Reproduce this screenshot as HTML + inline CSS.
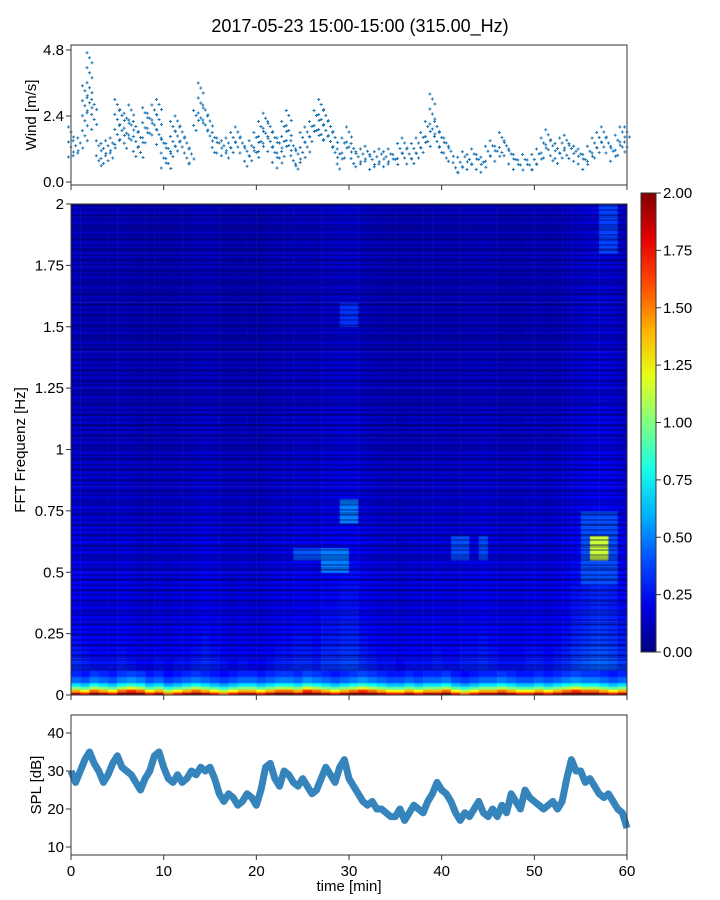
<!DOCTYPE html>
<html><head><meta charset="utf-8"><style>
body{margin:0;background:#fff;font-family:"Liberation Sans",sans-serif;}
#wrap{position:relative;width:720px;height:900px;overflow:hidden;}
canvas{position:absolute;left:71px;top:204px;}
#stripes{position:absolute;left:71px;top:204px;width:556px;height:470px;
 background:repeating-linear-gradient(180deg,rgba(0,0,90,0.35) 0px,rgba(0,0,90,0.35) 2px,rgba(0,0,0,0) 2px,rgba(0,0,0,0) 5px),
 repeating-linear-gradient(180deg,rgba(0,0,60,0.25) 0px,rgba(0,0,60,0.25) 3px,rgba(0,0,0,0) 3px,rgba(0,0,0,0) 11px);}
svg{position:absolute;left:0;top:0;}
text{font-family:"Liberation Sans",sans-serif;fill:#000;}
</style></head><body>
<div id="wrap">
<canvas id="spec" width="556" height="491"></canvas>
<div id="stripes"></div>
<svg id="svg" width="720" height="900"></svg>
</div>
<script>
const windLow = [0.9,0.8,1.0,1.5,2.5,1.8,0.5,0.6,0.6,0.8,1.2,1.4,1.2,1.5,0.9,0.8,1.4,1.6,1.7,1.2,0.5,0.4,0.8,1.0,1.2,0.6,0.6,1.8,2.0,1.8,1.4,1.0,0.9,0.8,0.8,1.0,1.2,0.9,0.5,0.6,0.8,1.0,1.3,1.0,0.6,0.5,0.8,1.0,0.5,0.3,0.7,1.0,1.4,1.6,1.5,1.4,1.2,0.8,0.4,0.8,1.0,0.6,0.4,0.5,0.6,0.4,0.5,0.6,0.5,0.6,0.5,0.7,0.8,0.5,0.6,0.8,1.0,1.2,1.6,1.2,1.0,0.8,0.6,0.2,0.3,0.5,0.4,0.6,0.4,0.3,0.6,0.8,0.6,0.9,0.8,0.6,0.4,0.3,0.5,0.3,0.4,0.5,0.8,1.0,0.7,0.6,0.8,0.9,0.7,0.6,0.5,0.4,0.6,0.8,1.0,1.2,0.9,0.6,0.8,1.0,1.2];
const windHigh = [2.0,1.5,1.6,3.5,4.7,3.0,1.5,1.4,1.5,1.6,3.0,2.6,2.5,2.8,2.2,1.8,2.7,2.5,2.8,3.0,1.6,1.4,2.2,2.4,2.0,1.6,1.2,2.6,3.6,2.8,2.4,1.8,1.6,1.5,1.6,1.8,2.0,1.6,1.3,1.5,1.8,2.2,2.5,2.2,1.8,1.6,2.2,2.6,1.5,1.2,1.8,2.0,2.2,2.6,3.0,2.6,2.2,1.8,1.2,1.6,2.0,1.4,1.1,1.2,1.3,1.0,1.1,1.2,1.1,1.2,1.0,1.4,1.6,1.2,1.4,1.6,1.8,2.2,3.2,2.2,1.8,1.6,1.3,0.7,0.9,1.1,1.0,1.2,1.0,0.9,1.3,1.5,1.3,1.8,1.5,1.2,1.0,0.8,1.0,0.8,1.0,1.2,1.6,1.9,1.5,1.4,1.6,1.7,1.4,1.3,1.2,1.0,1.3,1.6,1.8,2.0,1.6,1.3,1.7,2.0,2.0];
const splValues = [30,27,30,33,35,32,30,27,29,32,34,31,30,29,27,25,28,30,34,35,31,28,27,29,27,28,30,29,31,30,31,28,24,22,24,23,21,22,24,23,21,25,31,32,28,26,30,29,27,26,28,26,24,25,28,31,29,27,31,33,28,26,24,22,21,22,20,20,19,18,18,20,17,19,21,20,19,22,24,27,25,24,22,19,17,19,18,20,22,19,18,20,18,21,19,24,22,20,25,23,22,21,20,21,22,20,22,28,33,30,30,27,28,26,24,23,24,22,20,19,15];
const xTicks = [0,10,20,30,40,50,60];
const windTicks = [0.0,2.4,4.8];
const freqTicks = [0,0.25,0.5,0.75,1,1.25,1.5,1.75,2];
const freqTickLabels = ["0","0.25","0.5","0.75","1","1.25","1.5","1.75","2"];
const splTicks = [10,20,30,40];
const cbTicks = [0,0.25,0.5,0.75,1,1.25,1.5,1.75,2];
const lowEdges = [0,0.012,0.024,0.036,0.05,0.075,0.1];
const lowProfile = [1.9,1.4,1.0,0.7,0.45,0.32];
const colLow = [1.0,0.9,1.1,1.0,0.9,1.1,1.2,1.1,0.9,1.0,0.8,0.9,1.0,1.1,1.0,0.9,0.8,0.9,1.0,1.0,0.9,1.0,1.1,1.1,1.0,1.2,1.1,1.0,0.9,1.0,1.1,1.2,1.1,1.0,0.9,0.9,1.0,0.9,1.0,1.0,1.1,0.9,0.8,0.9,1.0,1.0,1.1,1.0,0.9,0.9,1.0,0.9,1.0,1.1,1.2,1.1,1.1,1.0,0.9,1.0];
const freqProfile = [0.28,0.25,0.23,0.22,0.21,0.2,0.2,0.19,0.19,0.18,0.18,0.17,0.16,0.16,0.15,0.15,0.14,0.14,0.13,0.13,0.13,0.12,0.12,0.12,0.12,0.12,0.11,0.11,0.11,0.11,0.11,0.11,0.11,0.11,0.11,0.11,0.11,0.12];
const colGain = [1.2,1.1,1.0,1.0,1.0,1.1,1.0,0.9,0.9,1.0,0.9,1.0,1.0,1.1,1.2,1.1,1.0,0.9,1.0,0.9,0.9,1.0,1.1,1.1,1.2,1.2,1.1,1.3,1.3,1.4,1.4,1.2,1.1,1.0,1.0,0.9,1.0,1.0,1.0,1.1,1.0,1.0,1.1,1.1,1.2,1.1,1.0,1.0,1.0,1.1,1.1,1.0,1.1,1.2,1.4,1.5,1.6,1.6,1.5,1.3];
const hotT0 = [29,27,56,55,29,57,44,24,41];
const hotT1 = [31,30,58,59,31,59,45,27,43];
const hotF0 = [0.75,0.53,0.6,0.5,1.55,1.85,0.58,0.55,0.58];
const hotF1 = [0.8,0.57,0.64,0.72,1.6,2.0,0.62,0.58,0.61];
const hotV  = [0.5,0.5,1.15,0.4,0.35,0.38,0.4,0.42,0.4];

const X0=71,X1=627;
const xs=t=>X0+(t/60)*(X1-X0);
const windY=v=>182-(v/4.8)*132;
const fY=f=>695-(f/2)*491;
const splY=v=>847-(v-10)*(847-733)/30;
const cbY=v=>652-(v/2)*459;

function jet(v){v=Math.max(0,Math.min(1,v));
 const r=Math.max(0,Math.min(1,1.5-Math.abs(4*v-3)));
 const g=Math.max(0,Math.min(1,1.5-Math.abs(4*v-2)));
 const b=Math.max(0,Math.min(1,1.5-Math.abs(4*v-1)));
 return `rgb(${Math.round(r*255)},${Math.round(g*255)},${Math.round(b*255)})`;}

const ctx=document.getElementById('spec').getContext('2d');
for(let c=0;c<60;c++){
 const x0=xs(c)-X0, x1=xs(c+1)-X0;
 for(let i=0;i<freqProfile.length;i++){
  const f0=0.1+i*0.05,f1=f0+0.05;
  let v=freqProfile[i]*colGain[c];
  for(let h=0;h<hotV.length;h++){ if(c>=hotT0[h]&&c<hotT1[h]&&f1>hotF0[h]&&f0<hotF1[h]) v=Math.max(v,hotV[h]); }
  ctx.fillStyle=jet(v/2); ctx.fillRect(x0,fY(f1)-204,x1-x0+0.5,fY(f0)-fY(f1)+0.5);
 }
 for(let i=0;i<lowProfile.length;i++){
  const v=lowProfile[i]*colLow[c];
  ctx.fillStyle=jet(v/2); ctx.fillRect(x0,fY(lowEdges[i+1])-204,x1-x0+0.5,fY(lowEdges[i])-fY(lowEdges[i+1])+0.5);
 }
}

const svg=document.getElementById('svg');const NS='http://www.w3.org/2000/svg';
function mk(tag,attrs,parent){const e=document.createElementNS(NS,tag);for(const k in attrs)e.setAttribute(k,attrs[k]);(parent||svg).appendChild(e);return e;}
function txt(s,x,y,anchor,size,parent){const e=mk('text',{x:x,y:y,'text-anchor':anchor,'font-size':size},parent);e.textContent=s;return e;}

const title=txt('2017-05-23 15:00-15:00 (315.00_Hz)',360,32,'middle',18);



const wg=mk('g',{});


const wpts=mk('g',{stroke:'#1f77b4','stroke-width':1},wg);


let d='';
for(let i=0;i<windLow.length;i++){
 const x=xs(i*0.5); const yl=windY(windLow[i]), yh=windY(windHigh[i]);
 let k=0;
 for(let y=yh;y<=yl+0.1;y+=5){ const xx=x+((k++)%3-1)*2.5; d+=`M${xx-1.5},${y}h3M${xx},${y-1.5}v3`; }
}
const wp=mk('path',{d:d,fill:'none'},wpts);


const wbox=mk('rect',{x:71,y:45,width:556,height:140,fill:'none',stroke:'#333','stroke-width':1},wg);


windTicks.forEach(v=>{mk('line',{x1:66,x2:71,y1:windY(v),y2:windY(v),stroke:'#333'},wg);txt(v.toFixed(1),64,windY(v)+5,'end',15,wg);});
xTicks.forEach(v=>{mk('line',{x1:xs(v),x2:xs(v),y1:185,y2:190,stroke:'#333'},wg);});
const wl=txt('Wind [m/s]',36,115,'middle',15,wg);wl.setAttribute('transform','rotate(-90 36 115)');



const sg=mk('g',{});


mk('rect',{x:71,y:204,width:556,height:491,fill:'none',stroke:'#333'},sg);
freqTicks.forEach((v,i)=>{mk('line',{x1:66,x2:71,y1:fY(v),y2:fY(v),stroke:'#333'},sg);txt(freqTickLabels[i],64,fY(v)+5,'end',15,sg);});
xTicks.forEach(v=>{mk('line',{x1:xs(v),x2:xs(v),y1:695,y2:700,stroke:'#333'},sg);});
const fl=txt('FFT Frequenz [Hz]',25,450,'middle',15,sg);fl.setAttribute('transform','rotate(-90 25 450)');



const defs=mk('defs',{});
const grad=mk('linearGradient',{id:'jetg',x1:0,y1:1,x2:0,y2:0},defs);
for(let i=0;i<=10;i++){mk('stop',{offset:i/10,'stop-color':jet(i/10)},grad);}
const cb=mk('g',{});


mk('rect',{x:641,y:193,width:15,height:459,fill:'url(#jetg)',stroke:'#333'},cb);
cbTicks.forEach(v=>{mk('line',{x1:656,x2:661,y1:cbY(v),y2:cbY(v),stroke:'#333'},cb);txt(v.toFixed(2),663,cbY(v)+5,'start',15,cb);});

const pg=mk('g',{});


let pd='';splValues.forEach((v,i)=>{pd+=(i?'L':'M')+xs(i*0.5)+','+splY(v);});
const band=mk('path',{d:pd,fill:'none',stroke:'#1f77b4','stroke-width':7,'stroke-linejoin':'round','stroke-opacity':0.9},pg);


mk('rect',{x:71,y:715,width:556,height:140,fill:'none',stroke:'#333'},pg);
splTicks.forEach(v=>{mk('line',{x1:66,x2:71,y1:splY(v),y2:splY(v),stroke:'#333'},pg);txt(String(v),64,splY(v)+5,'end',15,pg);});
xTicks.forEach(v=>{mk('line',{x1:xs(v),x2:xs(v),y1:855,y2:860,stroke:'#333'},pg);txt(String(v),xs(v),876,'middle',15,pg);});
const sl=txt('SPL [dB]',41,785,'middle',15,pg);sl.setAttribute('transform','rotate(-90 41 785)');


const xl=txt('time [min]',349,891,'middle',15,pg);


</script>
</body></html>
